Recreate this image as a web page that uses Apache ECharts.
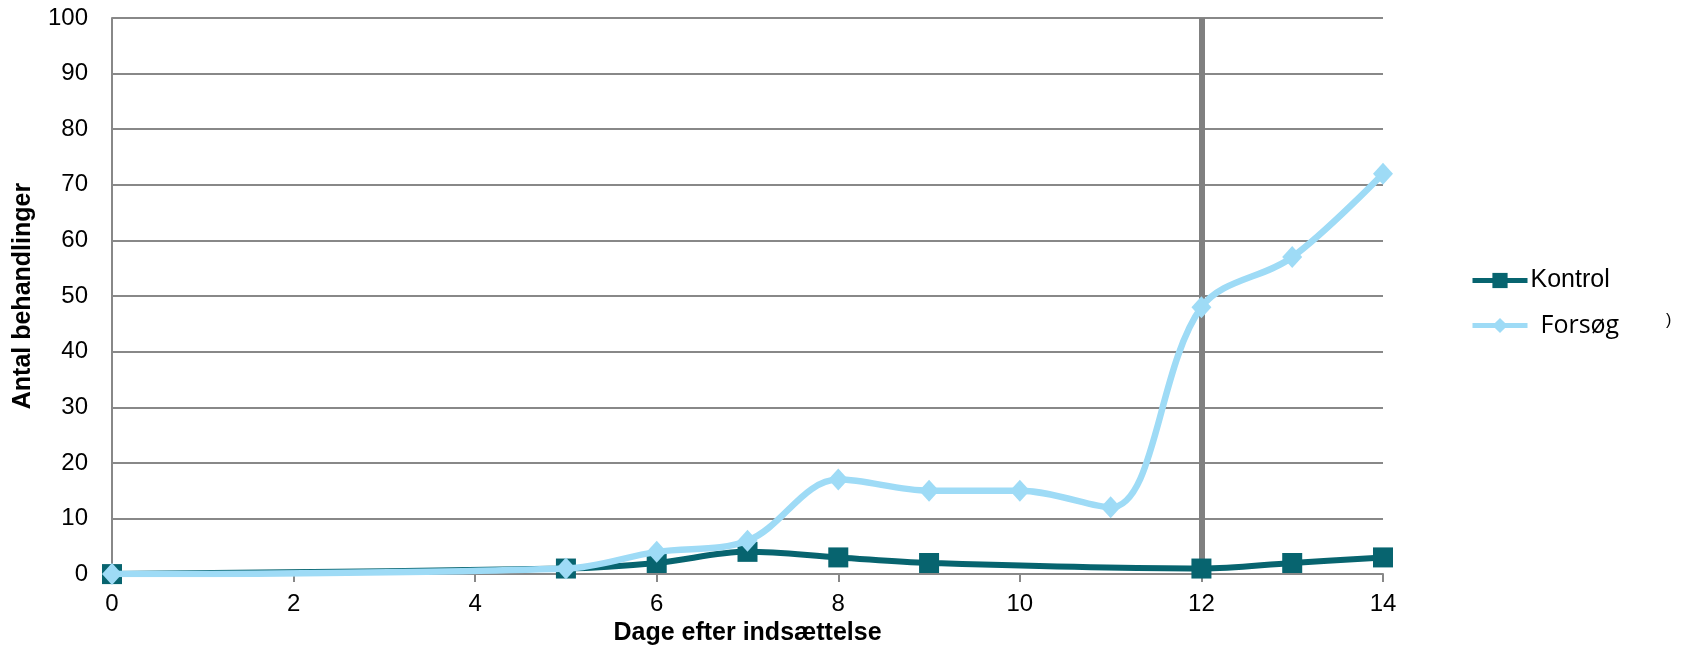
<!DOCTYPE html>
<html>
<head>
<meta charset="utf-8">
<script src="https://cdn.jsdelivr.net/npm/echarts@6/dist/echarts.min.js"></script>
<style>html,body{margin:0;padding:0;background:#fff}#c{width:1686px;height:651px}</style>
</head>
<body>
<div id="c"></div>
<script>
var kontrolX = [0, 5, 6, 7, 8, 9, 12, 13, 14];
var kontrolY = [0, 1, 2, 4, 3, 2, 1, 2, 3];
var forsogX = [0, 5, 6, 7, 8, 9, 10, 11, 12, 13, 14];
var forsogY = [0, 1, 4, 6, 17, 15, 15, 12, 48, 57, 72];
var markX = 12;
var xTicks = {min: 0, max: 14, interval: 2};
var yTicks = {min: 0, max: 100, interval: 10};

function pairs(xs, ys) { return xs.map(function (x, i) { return [x, ys[i]]; }); }

var chart = echarts.init(document.getElementById('c'));
chart.setOption({
  animation: false,
  backgroundColor: '#fff',
  grid: {left: 112, right: 303, top: 18, bottom: 70},
  legend: [{
    data: ['Kontrol'], orient: 'vertical', left: 1465, top: 263,
    itemWidth: 55, itemHeight: 19,
    lineStyle: {width: 5},
    textStyle: {fontFamily: 'Liberation Sans, Arial', fontSize: 25, color: '#000', padding: [0, 0, 0, -2]}
  }, {
    data: ['Forsøg'], orient: 'vertical', left: 1465, top: 308,
    itemWidth: 55, itemHeight: 19,
    lineStyle: {width: 5},
    textStyle: {fontFamily: 'Open Sans', fontSize: 25, color: '#000', padding: [0, 0, 0, 8]}
  }],
  graphic: [{
    type: 'text', left: 1666, top: 313,
    style: {text: ')', fontFamily: 'Liberation Sans', fontSize: 16, fill: '#000'}
  }],
  xAxis: {
    type: 'value', min: xTicks.min, max: xTicks.max, interval: xTicks.interval,
    name: 'Dage efter indsættelse', nameLocation: 'middle', nameGap: 45,
    nameTextStyle: {fontFamily: 'Liberation Sans, Arial', fontWeight: 'bold', fontSize: 25, color: '#000'},
    axisLine: {lineStyle: {color: '#888', width: 2}},
    axisTick: {show: true, length: 8, lineStyle: {color: '#888', width: 2}},
    axisLabel: {fontFamily: 'Liberation Sans, Arial', fontSize: 24, color: '#000', margin: 18},
    splitLine: {show: false}
  },
  yAxis: {
    type: 'value', min: yTicks.min, max: yTicks.max, interval: yTicks.interval,
    name: 'Antal behandlinger', nameLocation: 'middle', nameGap: 76,
    nameTextStyle: {fontFamily: 'Liberation Sans, Arial', fontWeight: 'bold', fontSize: 25, color: '#000'},
    axisLine: {show: true, lineStyle: {color: '#888', width: 2}},
    axisTick: {show: false},
    axisLabel: {fontFamily: 'Liberation Sans, Arial', fontSize: 24, color: '#000', margin: 24},
    splitLine: {show: true, lineStyle: {color: '#888', width: 2}}
  },
  series: [{
    name: 'Kontrol', type: 'line', data: pairs(kontrolX, kontrolY), smooth: 0.35,
    symbol: 'rect', symbolSize: 20,
    lineStyle: {color: '#07646f', width: 6},
    itemStyle: {color: '#07646f'},
    z: 3
  }, {
    name: 'Forsøg', type: 'line', data: pairs(forsogX, forsogY), smooth: 0.35,
    symbol: 'diamond', symbolSize: [20, 22],
    lineStyle: {color: '#9edbf6', width: 6.5},
    itemStyle: {color: '#9edbf6'},
    z: 4,
    markLine: {
      silent: true, symbol: 'none', label: {show: false},
      lineStyle: {color: '#808080', width: 6, type: 'solid'},
      data: [{xAxis: markX}],
      z: 2
    }
  }]
});
</script>
</body>
</html>
